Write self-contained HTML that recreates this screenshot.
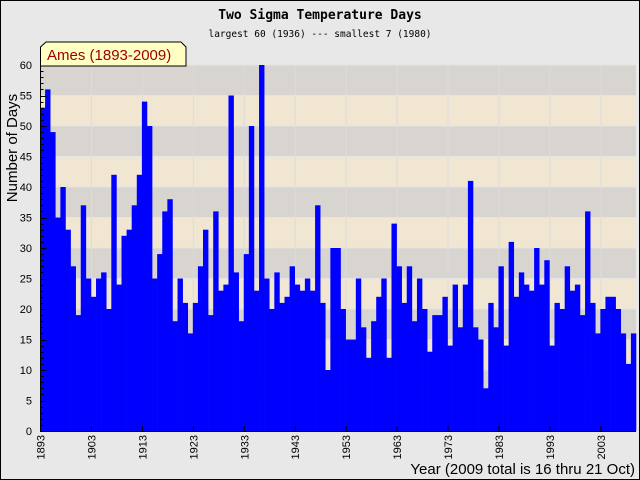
<!DOCTYPE html>
<html><head><meta charset="utf-8"><style>
html,body{margin:0;padding:0;background:#e8e8e8}
svg{display:block}
</style></head><body>
<svg id="chart" width="640" height="480" xmlns="http://www.w3.org/2000/svg">
<rect x="0.5" y="0.5" width="639" height="479" fill="#e8e8e8" stroke="#000"/>
<g id="bands"></g>
<g id="grid"></g>
<g id="bars"></g>
<g id="axes"></g>
<text x="320" y="19" text-anchor="middle" font-family="'DejaVu Sans Mono','Liberation Mono',monospace" font-weight="bold" font-size="13">Two Sigma Temperature Days</text>
<text x="320" y="37" text-anchor="middle" font-family="'DejaVu Sans Mono','Liberation Mono',monospace" font-size="9.5">largest 60 (1936) --- smallest 7 (1980)</text>
<path d="M40.5,66 V47 L46,42 H181 L186,47 V66 Z" fill="#ffffc4" stroke="#000"/>
<text x="47" y="60" font-family="'Liberation Sans',sans-serif" font-size="15" fill="#9a0000">Ames (1893-2009)</text>
<text transform="translate(17,148) rotate(-90)" text-anchor="middle" font-family="'Liberation Sans',sans-serif" font-size="15">Number of Days</text>
<text x="635" y="474" text-anchor="end" font-family="'Liberation Sans',sans-serif" font-size="15">Year (2009 total is 16 thru 21 Oct)</text>
</svg>
<script>
const startYear = 1893;
const values = [53,56,49,35,40,33,27,19,37,25,22,25,26,20,42,24,32,33,37,42,54,50,25,29,36,38,18,25,21,16,21,27,33,19,36,23,24,55,26,18,29,50,23,60,25,20,26,21,22,27,24,23,25,23,37,21,10,30,30,20,15,15,25,17,12,18,22,25,12,34,27,21,27,18,25,20,13,19,19,22,14,24,17,24,41,17,15,7,21,17,27,14,31,22,26,24,23,30,24,28,14,21,20,27,23,24,19,36,21,16,20,22,22,20,16,11,16];
const yTicks = [0,5,10,15,20,25,30,35,40,45,50,55,60];
const xTickYears = [1893,1903,1913,1923,1933,1943,1953,1963,1973,1983,1993,2003];
const NS = "http://www.w3.org/2000/svg";
const L = 40, R = 636, T = 65, B = 431, yMax = 60;
const nYears = values.length;
const bw = (R - L) / nYears;
function xs(year){ return L + (year - startYear) * bw; }
function ys(v){ return B - v / yMax * (B - T); }
function mk(tag, attrs, parent){ const e = document.createElementNS(NS, tag); for (const k in attrs) e.setAttribute(k, attrs[k]); parent.appendChild(e); return e; }
const bands = document.getElementById('bands');
for (let i = 0; i < yTicks.length - 1; i++) {
  const r = mk('rect', {x:L, y:ys(yTicks[i+1]), width:R-L, height:ys(yTicks[i])-ys(yTicks[i+1]), fill: (i % 2 === 1) ? '#d8d4cf' : '#f0e6d2'}, bands);
  
  
}
const grid = document.getElementById('grid');
xTickYears.forEach(y => {
  const l = mk('line', {x1:xs(y)+0.5, x2:xs(y)+0.5, y1:T, y2:B, stroke:'#dcdcdc', 'stroke-width':1}, grid);
  
  
});
yTicks.forEach(v => {
  const l = mk('line', {x1:L, x2:R, y1:ys(v), y2:ys(v), stroke:'#e4e4e4', 'stroke-width':1}, grid);
  
  
});
const bars = document.getElementById('bars');
values.forEach((v, i) => {
  const x0 = xs(startYear + i), x1 = Math.min(x0 + bw, R);
  const r = mk('rect', {x:x0, y:ys(v), width:Math.max(0, x1 - x0 + 0.3), height:B - ys(v), fill:'#0000ff'}, bars);
  
  
});
const axes = document.getElementById('axes');
const ya = mk('line', {x1:L+0.5, x2:L+0.5, y1:T, y2:B+1, stroke:'#000'}, axes);


const xa = mk('line', {x1:L, x2:R, y1:B+0.5, y2:B+0.5, stroke:'#000'}, axes);


for (let v = 0; v <= yMax; v++) {
  const len = v % 5 === 0 ? 6 : 3;
  const t = mk('line', {x1:L+0.5, x2:L+0.5+len, y1:Math.round(ys(v))+0.5, y2:Math.round(ys(v))+0.5, stroke:'#000'}, axes);
  
  
}
yTicks.forEach(v => {
  const t = mk('text', {x:32, y:ys(v)+4, 'text-anchor':'end', 'font-family':"'Liberation Sans',sans-serif", 'font-size':11}, axes);
  t.textContent = v;
  
  
});
xTickYears.forEach(y => {
  const x = xs(y) + 0.5;
  const tk = mk('line', {x1:x, x2:x, y1:B-5, y2:B, stroke:'#000'}, axes);
  
  
  const t = mk('text', {transform:'translate(' + (x+4) + ',' + (B+4) + ') rotate(-90)', 'text-anchor':'end', 'font-family':"'Liberation Sans',sans-serif", 'font-size':11}, axes);
  t.textContent = y;
  
  
});
</script>
</body></html>
